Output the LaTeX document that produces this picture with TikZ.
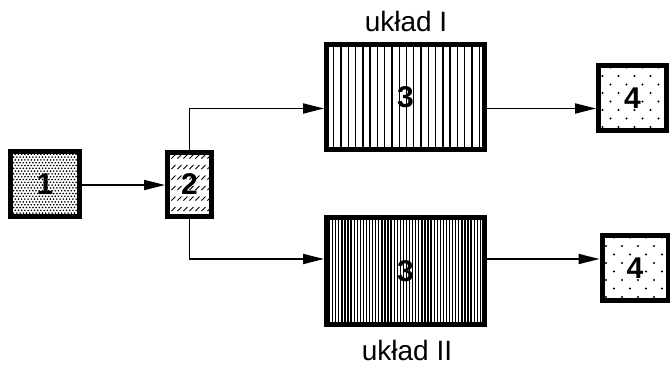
\documentclass[tikz,border=0pt]{standalone}
\usepackage{fontspec}
\setmainfont{Liberation Sans}
\usetikzlibrary{arrows.meta}
\tikzset{
  blk/.style={draw, line width=5pt, fill=white, inner sep=0pt,
    font=\bfseries\fontsize{30}{30}\selectfont},
  conn/.style={line width=1.8pt, -{Triangle[length=21pt,width=10pt]}},
  lbl/.style={font=\fontsize{28}{28}\selectfont, anchor=base, inner sep=0pt},
  vlines/.style={path picture={
    \foreach \i in {0,...,#1} {\draw[black, line width=1.3pt]
      ([xshift=\i*(160pt/#1)]path picture bounding box.north west) --
      ([xshift=\i*(160pt/#1)]path picture bounding box.south west);}}},
  densedots/.style={path picture={
    \foreach \j in {0,...,25} {\pgfmathsetmacro\myoff{mod(\j,2)*1.6}
      \foreach \i in {0,...,24} {
      \fill[black] ([shift={(\i*3.2pt+\myoff pt,-\j*2.8pt)}]path picture bounding box.north west) circle (0.9pt);}}}},
  sparsedots/.style={path picture={
    \foreach \j in {0,...,9} {\pgfmathsetmacro\myoff{mod(\j,2)*8}
      \foreach \i in {0,...,5} {
      \fill[black] ([shift={(\i*16pt+\myoff pt-4pt,-\j*8.5pt-2pt)}]path picture bounding box.north west) circle (1.1pt);}}}},
  hatchdash/.style={path picture={
    \foreach \j in {0,...,6} {\foreach \i in {0,...,8} {
      \draw[black, line width=1pt] ([shift={(\i*6pt-2pt,-\j*10.5pt-6pt)}]path picture bounding box.north west) -- ++(4pt,4pt);}}}},
}
\begin{document}
\begin{tikzpicture}[x=1pt,y=-1pt]
\useasboundingbox (0,0) rectangle (670,367);
\node[blk, densedots, minimum width=69pt, minimum height=65pt] (b1) at (45,184) {1};
\node[blk, hatchdash, minimum width=44pt, minimum height=64pt] (b2) at (189.5,184.5) {2};
\node[blk, vlines=22, minimum width=158pt, minimum height=105pt] (b3a) at (405.5,97) {3};
\node[blk, vlines=52, minimum width=158pt, minimum height=107pt] (b3b) at (405.5,271) {3};
\node[blk, sparsedots, minimum width=68pt, minimum height=65pt] (b4a) at (632.5,98) {4};
\node[blk, sparsedots, minimum width=66pt, minimum height=65pt] (b4b) at (635,268) {4};
\coordinate (ya) at (0,108.5);
\coordinate (yb) at (0,259);
\coordinate (yc) at (0,185);
\draw[conn] (b1.east |- yc) -- (b2.west |- yc);
\draw[conn] (b2.north) |- (b3a.west |- ya);
\draw[conn] (b2.south) |- (b3b.west |- yb);
\draw[conn] (b3a.east |- ya) -- (b4a.west |- ya);
\draw[conn] (b3b.east |- yb) -- (b4b.west |- yb);
\node[lbl] (la) at (406,31) {układ I};
\node[lbl] (lb) at (407,360) {układ II};
\end{tikzpicture}
\end{document}
